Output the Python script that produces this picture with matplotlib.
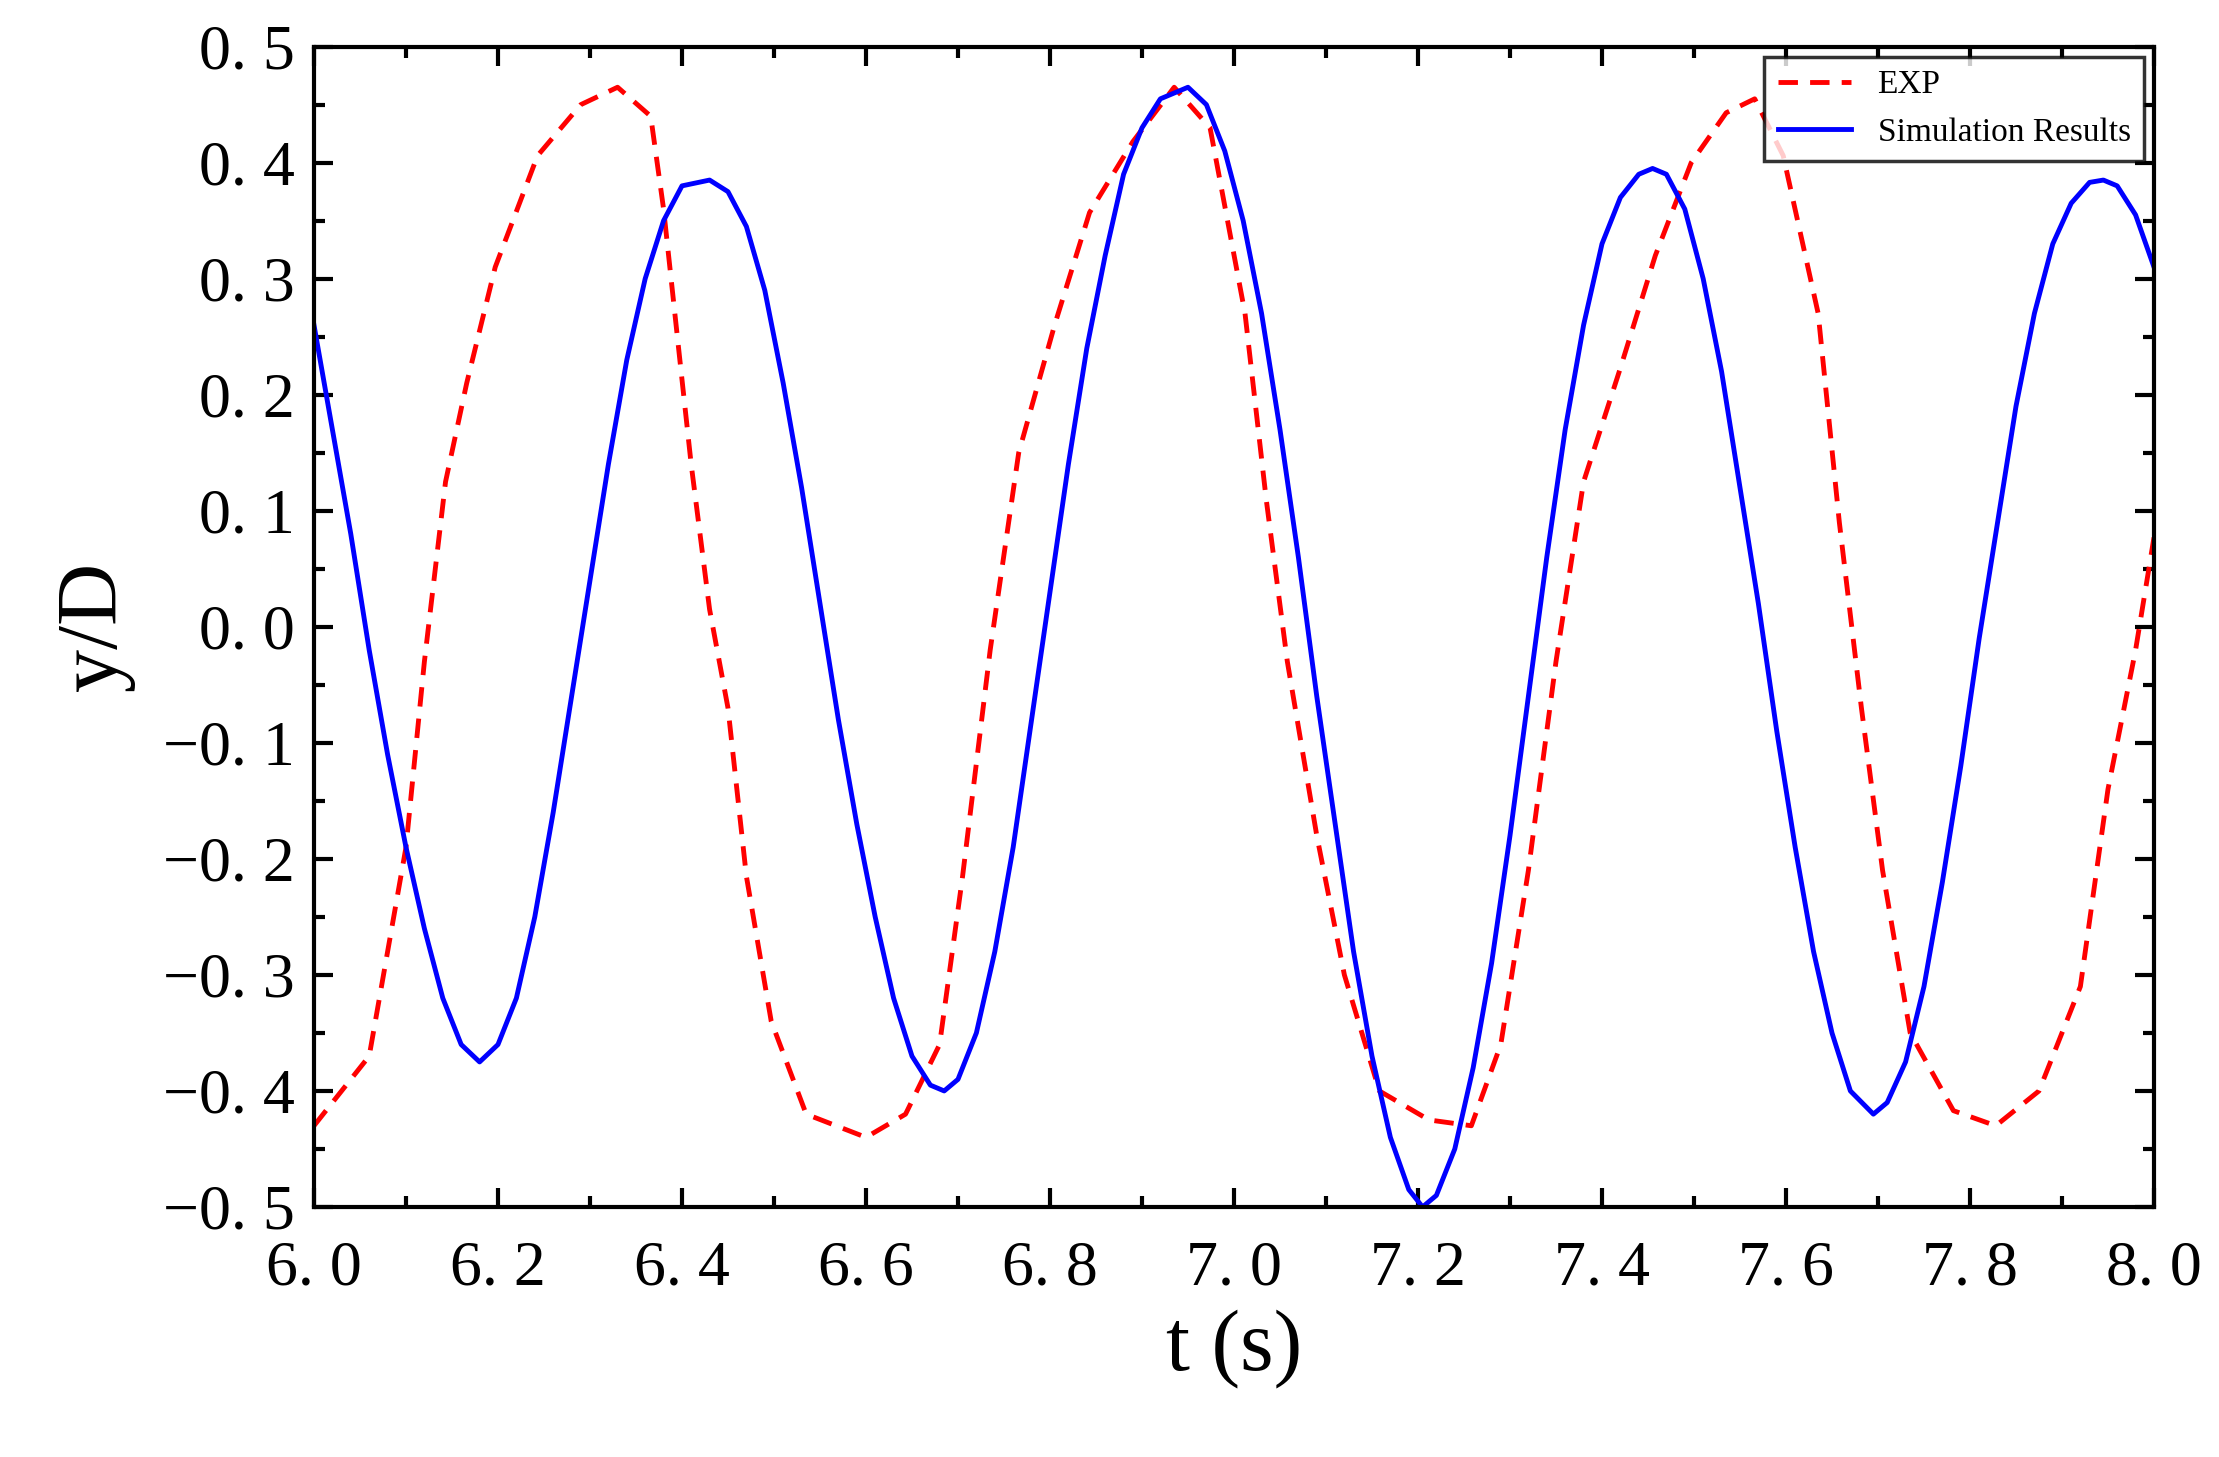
import matplotlib
matplotlib.use("Agg")
import matplotlib.pyplot as plt
from matplotlib.ticker import MultipleLocator

# simulation results (blue)
sim_t = [6.0, 6.02, 6.04, 6.06, 6.08, 6.10, 6.12, 6.14, 6.16, 6.18, 6.20, 6.22, 6.24, 6.26,
         6.28, 6.30, 6.32, 6.34, 6.36, 6.38, 6.40, 6.43, 6.45, 6.47, 6.49, 6.51, 6.53, 6.55,
         6.57, 6.59, 6.61, 6.63, 6.65, 6.67, 6.685, 6.70, 6.72, 6.74, 6.76, 6.78, 6.80, 6.82,
         6.84, 6.86, 6.88, 6.90, 6.92, 6.95, 6.97, 6.99, 7.01, 7.03, 7.05, 7.07, 7.09, 7.11,
         7.13, 7.15, 7.17, 7.19, 7.205, 7.22, 7.24, 7.26, 7.28, 7.30, 7.32, 7.34, 7.36, 7.38,
         7.40, 7.42, 7.44, 7.455, 7.47, 7.49, 7.51, 7.53, 7.55, 7.57, 7.59, 7.61, 7.63, 7.65,
         7.67, 7.695, 7.71, 7.73, 7.75, 7.77, 7.79, 7.81, 7.83, 7.85, 7.87, 7.89, 7.91, 7.93,
         7.945, 7.96, 7.98, 8.0]
sim_y = [0.26, 0.17, 0.08, -0.02, -0.11, -0.19, -0.26, -0.32, -0.36, -0.375, -0.36, -0.32, -0.25, -0.16,
         -0.06, 0.04, 0.14, 0.23, 0.30, 0.35, 0.38, 0.385, 0.375, 0.345, 0.29, 0.21, 0.12, 0.02,
         -0.08, -0.17, -0.25, -0.32, -0.37, -0.395, -0.40, -0.39, -0.35, -0.28, -0.19, -0.08, 0.03, 0.14,
         0.24, 0.32, 0.39, 0.43, 0.455, 0.465, 0.45, 0.41, 0.35, 0.27, 0.17, 0.06, -0.06, -0.17,
         -0.28, -0.37, -0.44, -0.485, -0.50, -0.49, -0.45, -0.38, -0.29, -0.18, -0.06, 0.06, 0.17, 0.26,
         0.33, 0.37, 0.39, 0.395, 0.39, 0.36, 0.30, 0.22, 0.12, 0.02, -0.09, -0.19, -0.28, -0.35,
         -0.40, -0.42, -0.41, -0.375, -0.31, -0.22, -0.12, -0.01, 0.09, 0.19, 0.27, 0.33, 0.365, 0.383,
         0.385, 0.38, 0.355, 0.31]

# experiment (red dashed)
exp_t = [6.0, 6.06, 6.1, 6.12, 6.143, 6.166, 6.197, 6.243, 6.29, 6.33, 6.366, 6.38, 6.397, 6.41,
         6.43, 6.45, 6.47, 6.497, 6.535, 6.6, 6.643, 6.68, 6.705, 6.735, 6.766, 6.805, 6.843,
         6.89, 6.935, 6.974, 7.012, 7.035, 7.058, 7.09, 7.12, 7.158, 7.212, 7.258, 7.29, 7.32,
         7.35, 7.38, 7.42, 7.458, 7.497, 7.535, 7.566, 7.597, 7.635, 7.658, 7.682, 7.705, 7.735,
         7.782, 7.828, 7.875, 7.92, 7.95, 7.98, 8.0]
exp_y = [-0.43, -0.37, -0.19, -0.03, 0.125, 0.21, 0.31, 0.406, 0.45, 0.465, 0.44, 0.36, 0.235, 0.14,
         0.015, -0.07, -0.215, -0.34, -0.42, -0.44, -0.42, -0.36, -0.215, -0.02, 0.15, 0.26, 0.357,
         0.418, 0.465, 0.43, 0.27, 0.11, -0.03, -0.18, -0.30, -0.40, -0.425, -0.43, -0.36, -0.21,
         -0.03, 0.125, 0.223, 0.32, 0.40, 0.443, 0.455, 0.406, 0.27, 0.09, -0.07, -0.21, -0.35,
         -0.417, -0.43, -0.40, -0.31, -0.14, -0.02, 0.077]

x_ticks = [6.0, 6.2, 6.4, 6.6, 6.8, 7.0, 7.2, 7.4, 7.6, 7.8, 8.0]
y_ticks = [-0.5, -0.4, -0.3, -0.2, -0.1, 0.0, 0.1, 0.2, 0.3, 0.4, 0.5]

plt.rcParams["font.family"] = ["Liberation Serif", "DejaVu Serif"]

fig = plt.figure(figsize=(22.19, 14.57), dpi=100)
ax = fig.add_axes([0.1415, 0.1716, 0.8292, 0.7964])

ax.plot(exp_t, exp_y, color="red", linestyle=(0, (4, 2.5)), linewidth=3.5, label="EXP")
ax.plot(sim_t, sim_y, color="blue", linewidth=3.5, solid_joinstyle="round", label="Simulation Results")

ax.set_xlim(6.0, 8.0)
ax.set_ylim(-0.5, 0.5)
ax.set_xticks(x_ticks)
ax.set_xticklabels([f"{v:.1f}".replace(".", ". ") for v in x_ticks])
ax.set_yticks(y_ticks)
ax.set_yticklabels([f"{v:.1f}".replace(".", ". ").replace("-", "\u2212") for v in y_ticks])
ax.xaxis.set_minor_locator(MultipleLocator(0.1))
ax.yaxis.set_minor_locator(MultipleLocator(0.05))
ax.tick_params(which="both", direction="in", top=True, right=True, width=3, labelsize=46)
ax.tick_params(which="major", length=14)
ax.tick_params(axis="x", which="major", pad=24)
ax.tick_params(axis="y", which="major", pad=14)
ax.tick_params(which="minor", length=8)
for s in ax.spines.values():
    s.set_linewidth(3)

ax.set_xlabel("t (s)", fontsize=62, labelpad=8)
ax.set_ylabel("y/D", fontsize=62, labelpad=20)

leg = ax.legend(loc="upper right", fontsize=24, frameon=True, fancybox=False,
                edgecolor="black", borderaxespad=0.3, handlelength=2.2)
leg.get_frame().set_linewidth(2.5)

fig.savefig("out.png", dpi=100)
